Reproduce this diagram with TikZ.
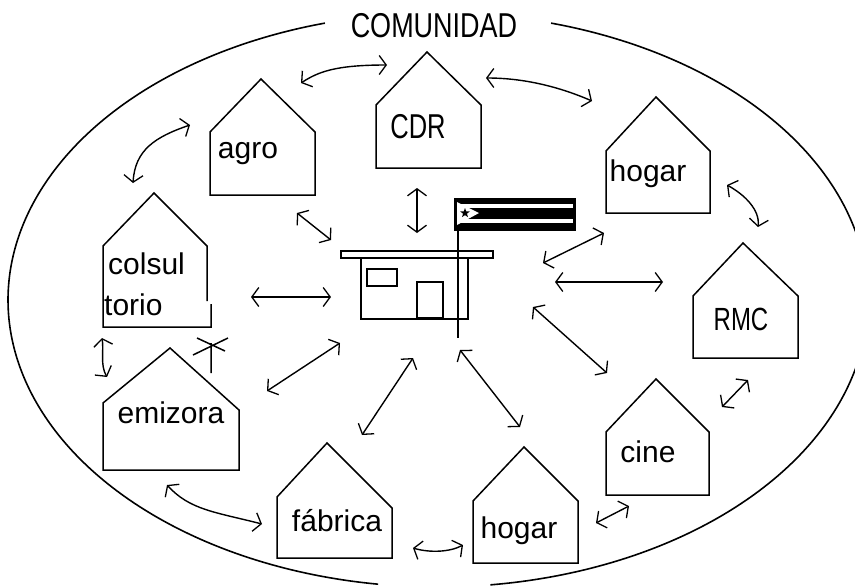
\documentclass[tikz,border=0pt]{standalone}
\usepackage{fontspec}
\setmainfont{Liberation Sans}
\usetikzlibrary{arrows.meta,shapes.geometric}
\tikzset{
  house/.style={draw=black,line width=1.5pt,line join=miter,fill=none},
  label/.style={anchor=base,inner sep=0pt,font=\fontsize{30}{30}\selectfont,text=black},
  link/.style={draw=black,line width=1.4pt,{Straight Barb[length=7pt,width=19pt,line width=1.3pt]}-{Straight Barb[length=7pt,width=19pt,line width=1.3pt]}},
  outline/.style={draw=black,line width=1.6pt},
  bldg/.style={draw=black,line width=1.9pt}
}
\begin{document}
\begin{tikzpicture}[x=1pt,y=-1pt]
\useasboundingbox (0,0) rectangle (855,587);
\fill[white] (0,0) rectangle (855,587);
% community outline
\begin{scope}
\clip (0,0) rectangle (855,587);
\draw[outline,domain=105.25:262,samples=120,smooth,variable=\t] plot ({438+430*cos(\t)},{300-287*sin(\t)});
\draw[outline,domain=74.75:-83,samples=120,smooth,variable=\t] plot ({438+430*cos(\t)},{300-287*sin(\t)});
\end{scope}
% houses
\draw[house] (427,52) -- (376,105) -- (376,168) -- (481,168) -- (481,105) -- cycle;
\draw[house] (261,79) -- (210,132) -- (210,195) -- (315,195) -- (315,132) -- cycle;
\draw[house] (656,97) -- (606,151) -- (606,213) -- (710,213) -- (710,151) -- cycle;
\draw[house] (743,243) -- (693,296) -- (693,358) -- (798,358) -- (798,296) -- cycle;
\draw[house] (207,301) -- (207,246) -- (154,193) -- (103,246) -- (103,327) -- (211,327) -- (211,304);
\draw[house] (170,348) -- (103,403) -- (103,470) -- (239,470) -- (239,410) -- cycle;
\draw[house] (656,379) -- (606,432) -- (606,495) -- (709,495) -- (709,432) -- cycle;
\draw[house] (327,443) -- (277,497) -- (277,558) -- (392,558) -- (392,508) -- cycle;
\draw[house] (524,447) -- (473,501) -- (473,563) -- (578,563) -- (578,501) -- cycle;
% antenna
\draw[house] (211,343) -- (211,373) (197,338) -- (225,351) (193,355) -- (228,338);
% labels
\node[label,xscale=.9,yscale=1.15] (title) at (434,37) {COMUNIDAD};
\node[label,xscale=.85,yscale=1.15] (cdr) at (418,138) {CDR};
\node[label] (agro) at (248,158) {agro};
\node[label] (hogarA) at (648,181) {hogar};
\node[label,xscale=.8,yscale=1.07] (rmc) at (741,330) {RMC};
\node[label,anchor=base west] (cons) at (108,274) {colsul};
\node[label,anchor=base west] (torio) at (104,315) {torio};
\node[label] (emi) at (171,423) {emizora};
\node[label] (cine) at (648,462) {cine};
\node[label] (fab) at (337,531) {fábrica};
\node[label] (hogarB) at (519,538) {hogar};
% school building
\draw[bldg] (341,251) rectangle (493,258);
\draw[bldg] (361,258) rectangle (468,319);
\draw[bldg] (367,269) rectangle (397,286);
\draw[bldg] (417,282) rectangle (443,318);
\draw[bldg] (458,231) -- (458,338);
% flag
\fill[black] (454,198) rectangle (576,231);
\fill[white] (458,204) rectangle (573,208);
\fill[white] (458,219) rectangle (573,223);
\fill[white] (457,202) -- (479,213) -- (457,225) -- cycle;
\node[star,star points=5,star point ratio=2.4,fill=black,inner sep=0pt,minimum size=10pt] (star) at (465,213) {};
% connector ends
\coordinate (a1) at (301,83); \coordinate (a3) at (387,65);
\coordinate (b1) at (486,78); \coordinate (b3) at (592,101);
\coordinate (c1) at (190,125); \coordinate (c3) at (133,183);
\coordinate (d1) at (727,185); \coordinate (d3) at (758,227);
\coordinate (e1) at (748,380); \coordinate (e2) at (722,407);
\coordinate (f1) at (629,506); \coordinate (f2) at (596,523);
\coordinate (g1) at (463,545); \coordinate (g3) at (413,548);
\coordinate (h1) at (167,485); \coordinate (h3) at (262,524);
\coordinate (i1) at (102,338); \coordinate (i3) at (107,377);
\coordinate (j1) at (251,297); \coordinate (j2) at (331,297);
\coordinate (k1) at (297,213); \coordinate (k2) at (331,240);
\coordinate (l1) at (417,188); \coordinate (l2) at (417,233);
\coordinate (m1) at (543,263); \coordinate (m2) at (604,233);
\coordinate (n1) at (555,282); \coordinate (n2) at (663,282);
\coordinate (o1) at (533,307); \coordinate (o2) at (607,373);
\coordinate (p1) at (460,350); \coordinate (p2) at (520,427);
\coordinate (q1) at (413,358); \coordinate (q2) at (362,435);
\coordinate (r1) at (340,343); \coordinate (r2) at (267,391);
% connectors
\draw[link] (a1) .. controls (318,72) and (335,65) .. (a3);
\draw[link] (b1) .. controls (520,78) and (555,85) .. (b3);
\draw[link] (c1) .. controls (155,137) and (135,150) .. (c3);
\draw[link] (d1) .. controls (745,195) and (760,210) .. (d3);
\draw[link] (e1) -- (e2);
\draw[link] (f1) -- (f2);
\draw[link] (g1) .. controls (450,552) and (430,553) .. (g3);
\draw[link] (h1) .. controls (190,510) and (215,512) .. (h3);
\draw[link] (i1) .. controls (104,350) and (100,365) .. (i3);
\draw[link] (j1) -- (j2);
\draw[link] (k1) -- (k2);
\draw[link] (l1) -- (l2);
\draw[link] (m1) -- (m2);
\draw[link] (n1) -- (n2);
\draw[link] (o1) -- (o2);
\draw[link] (p1) -- (p2);
\draw[link] (q1) -- (q2);
\draw[link] (r1) -- (r2);
\end{tikzpicture}
\end{document}
